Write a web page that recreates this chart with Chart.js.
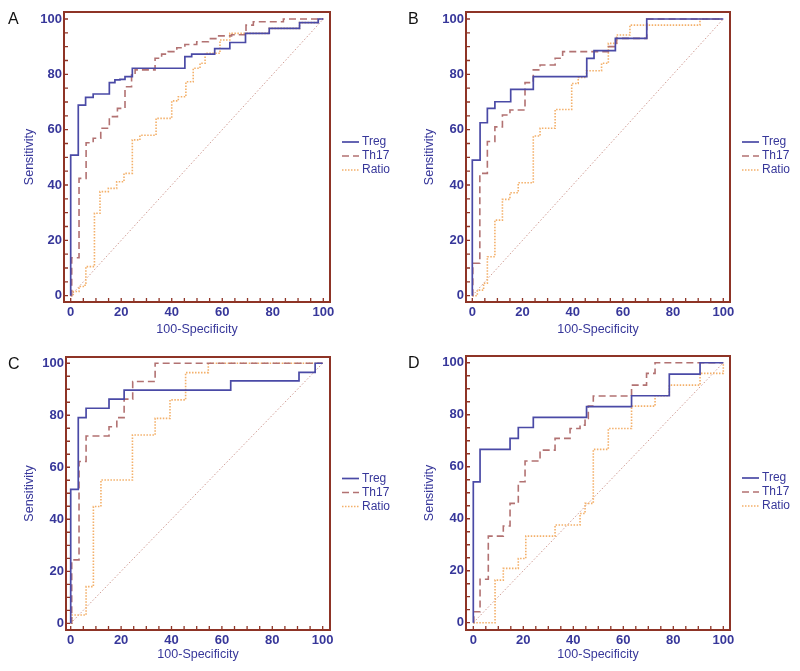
<!DOCTYPE html>
<html>
<head>
<meta charset="utf-8">
<script src="https://cdn.jsdelivr.net/npm/chart.js@4.4.1/dist/chart.umd.min.js"></script>
<style>
  html, body { margin: 0; padding: 0; background: #fff; overflow: hidden; }
  #wrap { position: relative; width: 800px; height: 671px; }
  .panel { position: absolute; width: 400px; height: 345px; }
</style>
</head>
<body>
<div id="wrap">
  <div class="panel" style="left:0;top:0"><canvas id="chartA" width="400" height="345"></canvas></div>
  <div class="panel" style="left:400px;top:0"><canvas id="chartB" width="400" height="345"></canvas></div>
  <div class="panel" style="left:0;top:330px"><canvas id="chartC" width="400" height="345"></canvas></div>
  <div class="panel" style="left:400px;top:330px"><canvas id="chartD" width="400" height="345"></canvas></div>
</div>
<script>
// ROC curve corner points: x = 100-Specificity, y = Sensitivity
const seriesNames = ["Treg", "Th17", "Ratio"];
const tickValues = [0, 5, 10, 15, 20, 25, 30, 35, 40, 45, 50, 55, 60, 65, 70, 75, 80, 85, 90, 95, 100];
const diagX = [0, 100];
const diagY = [0, 100];

// panel A
const aTregX = [0, 0, 3, 5.9, 8.9, 15.3, 17.5, 19.5, 21.5, 24.4, 45.2, 47.9, 57, 63, 69.2, 78.6, 90.6, 98, 100];
const aTregY = [0, 50.8, 68.9, 71.7, 72.9, 77, 78, 78.2, 79.2, 82.2, 86.4, 87.3, 89.3, 91.5, 94.8, 96.6, 98.7, 100, 100];
const aTh17X = [0, 0.4, 3.3, 6.1, 8.9, 11.9, 15.3, 18.5, 21.5, 24.1, 25.5, 33.4, 36, 38.6, 42, 45.2, 49.9, 54.5, 57.8, 63.7, 69.4, 72.3, 84.2, 100];
const aTh17Y = [0, 13.7, 42.4, 55.3, 56.9, 60.5, 64.7, 67.7, 75.5, 79.8, 81.6, 85.8, 87.3, 88.2, 89.6, 90.8, 91.8, 92.9, 93.9, 94.3, 97.8, 99, 100, 100];
const aRatioX = [0, 1, 3.3, 5.7, 6, 9.4, 11.6, 14.9, 18.2, 21.1, 24.4, 27.4, 33.8, 40, 42.6, 45.6, 48.5, 51.2, 53.2, 59.1, 63, 78.6, 90.6, 98, 100];
const aRatioY = [0, 1.5, 3.3, 4.5, 10.5, 29.8, 37.6, 38.8, 41.2, 44.2, 56.3, 58, 64.1, 70.4, 71.9, 77.3, 82.2, 84, 87.6, 92.4, 94.8, 96.6, 98.7, 100, 100];

// panel B
const bTregX = [0, 0, 3.1, 6, 9, 15.3, 24.3, 45.6, 48.5, 57, 69.5, 100];
const bTregY = [0, 49, 62.5, 67.7, 70.1, 74.6, 79.2, 85.8, 88.6, 93, 100, 100];
const bTh17X = [0, 0.2, 3, 6, 9, 12, 15, 21, 24.3, 27, 33, 36, 54.2, 57.5, 69.5, 100];
const bTh17Y = [0, 11.7, 44.2, 55.7, 61, 65.3, 67.1, 77, 81.6, 83.4, 85.8, 88.2, 90, 93, 100, 100];
const bRatioX = [0, 2, 4.5, 6, 9, 12, 15, 18.3, 24.3, 27, 33, 39.6, 42.2, 45.5, 51.5, 54.2, 57.5, 62.8, 90.7, 100];
const bRatioY = [0, 2, 4.5, 14.1, 27.3, 34.8, 37.2, 40.8, 57.7, 60.5, 67.3, 76.7, 78.9, 81.3, 84, 91.2, 94.2, 97.8, 100, 100];

// panel C
const cTregX = [0, 0, 3, 6.1, 15.2, 21.2, 63.5, 90.6, 97, 100];
const cTregY = [0, 51.5, 79.1, 82.7, 86.2, 89.7, 93.2, 96.5, 100, 100];
const cTh17X = [0, 0.4, 3.3, 6.1, 15.2, 18.3, 21.2, 24.6, 33.5, 100];
const cTh17Y = [0, 24.4, 62.2, 72, 75.6, 79.1, 86.2, 93, 100, 100];
const cRatioX = [0, 0.5, 6.1, 9, 12, 24.5, 33.5, 39.4, 45.6, 54.6, 100];
const cRatioY = [0, 3.2, 14.1, 44.9, 55.1, 72.4, 78.8, 85.9, 96.4, 100, 100];

// panel D
const dTregX = [0, 0, 2.7, 14.7, 18, 24, 45.3, 63.3, 78.4, 90.7, 100];
const dTregY = [0, 54.2, 66.7, 70.9, 75.1, 79, 83.1, 87.3, 95.6, 100, 100];
const dTh17X = [0, 0.2, 2.7, 6, 12, 14.7, 18, 20.7, 26.7, 32.7, 38.7, 42.7, 44.7, 46, 48, 63.3, 69.3, 72.7, 100];
const dTh17Y = [0, 4.2, 16.7, 33.3, 37.2, 45.9, 54.2, 62.2, 66.4, 70.9, 74.7, 76, 78.6, 83.3, 87.2, 91.4, 95.9, 100, 100];
const dRatioX = [0, 8.7, 12, 18, 21, 32.7, 42.7, 44.7, 48, 54, 63.3, 72.7, 78.4, 90.7, 100];
const dRatioY = [0, 16.4, 20.9, 24.7, 33.3, 37.6, 42, 45.9, 66.7, 74.7, 83.3, 87.3, 91.4, 95.9, 100];

const BLUE_TEXT = "#37379a";
const FRAME = "#8e3426";
const FONT = "'Liberation Sans', Arial, sans-serif";

const lineStyles = [
  { borderColor: "#4a4aa6", borderWidth: 1.7, borderDash: [] },
  { borderColor: "#b27272", borderWidth: 1.6, borderDash: [7, 4] },
  { borderColor: "#f3b06a", borderWidth: 1.6, borderDash: [1.5, 1.5] },
];

const panels = [
  { id: "chartA", letter: "A", area: { l: 64, t: 12, r: 330, b: 302 }, x: [-2.65, 102.65], y: [-2.28, 102.53], titleY: 330,
    curves: [[aTregX, aTregY], [aTh17X, aTh17Y], [aRatioX, aRatioY]] },
  { id: "chartB", letter: "B", area: { l: 66, t: 12, r: 330, b: 302 }, x: [-2.51, 102.67], y: [-2.28, 102.53], titleY: 330,
    curves: [[bTregX, bTregY], [bTh17X, bTh17Y], [bRatioX, bRatioY]] },
  { id: "chartC", letter: "C", area: { l: 66, t: 27, r: 330, b: 300 }, x: [-1.87, 102.9], y: [-2.58, 102.4], titleY: 325,
    curves: [[cTregX, cTregY], [cTh17X, cTh17Y], [cRatioX, cRatioY]] },
  { id: "chartD", letter: "D", area: { l: 66, t: 26, r: 330, b: 300 }, x: [-2.92, 102.68], y: [-2.8, 102.6], titleY: 325,
    curves: [[dTregX, dTregY], [dTh17X, dTh17Y], [dRatioX, dRatioY]] },
];

const toPoints = (xs, ys) => xs.map((x, i) => ({ x, y: ys[i] }));

const framePlugin = {
  id: "frame",
  afterDatasetsDraw(chart) {
    const { ctx, chartArea: a, scales } = chart;
    ctx.save();
    ctx.strokeStyle = FRAME;
    ctx.lineWidth = 1.3;
    ctx.setLineDash([]);
    ctx.beginPath();
    for (const v of tickValues) {
      const px = scales.x.getPixelForValue(v);
      ctx.moveTo(px, a.bottom);
      ctx.lineTo(px, a.bottom - 4);
      const py = scales.y.getPixelForValue(v);
      ctx.moveTo(a.left, py);
      ctx.lineTo(a.left + 4, py);
    }
    ctx.stroke();
    ctx.lineWidth = 2;
    ctx.strokeRect(a.left, a.top, a.right - a.left, a.bottom - a.top);
    ctx.restore();
  },
  afterDraw(chart) {
    const { ctx, chartArea: a } = chart;
    const opts = chart.options.plugins.frame;
    ctx.save();
    // panel letter
    ctx.fillStyle = "#111";
    ctx.font = "16px " + FONT;
    ctx.textBaseline = "alphabetic";
    ctx.fillText(opts.letter, 8, a.top + 12);
    // legend
    const cy = (a.top + a.bottom) / 2;
    ctx.font = "12px " + FONT;
    ctx.textBaseline = "middle";
    chart.data.datasets.forEach((ds, i) => {
      if (!ds.label) return;
      const y = cy + (i - 1) * 14 - 1;
      ctx.strokeStyle = ds.borderColor;
      ctx.lineWidth = ds.borderWidth;
      ctx.setLineDash(ds.borderDash || []);
      ctx.beginPath();
      ctx.moveTo(a.right + 12, y);
      ctx.lineTo(a.right + 29, y);
      ctx.stroke();
      ctx.fillStyle = BLUE_TEXT;
      ctx.fillText(ds.label, a.right + 32, y);
    });
    ctx.restore();
  },
};

function buildChart(p) {
  const datasets = p.curves.map(([xs, ys], i) => ({
    label: seriesNames[i],
    data: toPoints(xs, ys),
    showLine: true,
    stepped: "before",
    pointRadius: 0,
    fill: false,
    ...lineStyles[i],
  }));
  datasets.push({
    label: "",
    data: toPoints(diagX, diagY),
    showLine: true,
    pointRadius: 0,
    borderColor: "#cf9a92",
    borderWidth: 1,
    borderDash: [1.5, 2],
  });

  const canvasH = 345;
  new Chart(document.getElementById(p.id), {
    type: "scatter",
    data: { datasets },
    options: {
      responsive: false,
      animation: false,
      events: [],
      layout: { padding: { top: p.area.t, right: 400 - p.area.r, left: 0, bottom: 0 } },
      plugins: {
        legend: { display: false },
        tooltip: { enabled: false },
        frame: { letter: p.letter },
      },
      scales: {
        x: {
          type: "linear",
          min: p.x[0],
          max: p.x[1],
          afterBuildTicks: s => { s.ticks = tickValues.map(v => ({ value: v })); },
          afterFit: s => { s.height = canvasH - p.area.b; },
          grid: { display: false, drawTicks: false },
          border: { display: false },
          ticks: {
            autoSkip: false, maxRotation: 0, padding: 3, color: BLUE_TEXT,
            font: { family: FONT, size: 13, weight: "bold" },
            callback: v => (v % 20 === 0 ? String(v) : ""),
          },
          title: {
            display: true, text: "100-Specificity", color: BLUE_TEXT,
            font: { family: FONT, size: 12.5 },
            padding: { top: 0, bottom: canvasH - 7.5 - p.titleY },
          },
        },
        y: {
          type: "linear",
          min: p.y[0],
          max: p.y[1],
          afterBuildTicks: s => { s.ticks = tickValues.map(v => ({ value: v })); },
          afterFit: s => { s.width = p.area.l; },
          grid: { display: false, drawTicks: false },
          border: { display: false },
          ticks: {
            autoSkip: false, padding: 2, color: BLUE_TEXT,
            font: { family: FONT, size: 13, weight: "bold" },
            callback: v => (v % 20 === 0 ? String(v) : ""),
          },
          title: {
            display: true, text: "Sensitivity", color: BLUE_TEXT,
            font: { family: FONT, size: 12.5 },
            padding: { top: 22.5, bottom: 0 },
          },
        },
      },
    },
    plugins: [framePlugin],
  });
}

panels.forEach(buildChart);
</script>
</body>
</html>
